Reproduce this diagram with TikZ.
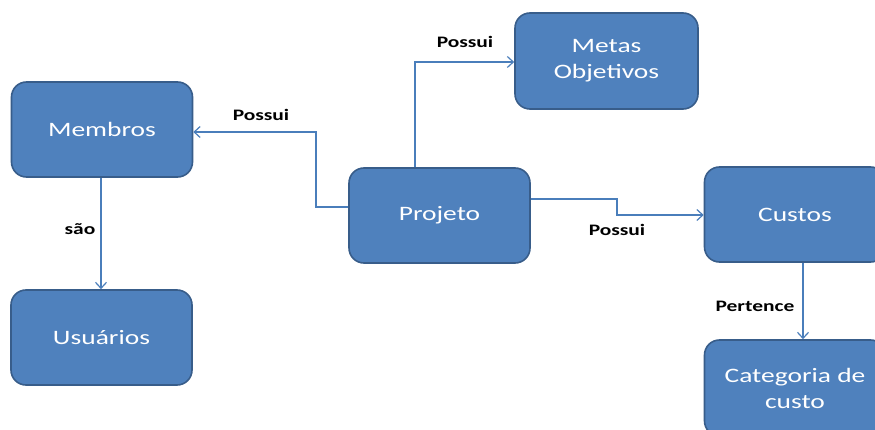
\documentclass[tikz,border=0pt]{standalone}
\usepackage{fontspec}
\setmainfont[FakeStretch=1.34]{Carlito}
\usetikzlibrary{arrows.meta}
\definecolor{boxfill}{HTML}{4F81BD}
\definecolor{boxline}{HTML}{385D8A}
\definecolor{linkcol}{HTML}{4A7EBB}
\begin{document}
\begin{tikzpicture}[x=1pt,y=-1pt,
  entity/.style={draw=boxline, line width=1.6pt, fill=boxfill, rounded corners=15pt,
    text=white, align=center, font=\fontsize{20.5}{26}\selectfont,
    inner sep=0pt, minimum width=181pt, minimum height=95pt},
  link/.style={draw=linkcol, line width=1.3pt, -{Straight Barb[length=6pt,width=11pt,line width=1.2pt]}},
  lbl/.style={font=\fontsize{16}{18}\selectfont\bfseries, text=black, inner sep=0pt}]
\useasboundingbox (0,0) rectangle (875,430);
\clip (0,0) rectangle (875,430);
\fill[white] (0,0) rectangle (875,430);

% entities
\node[entity] (memb) at (102,129.5) {Membros};
\node[entity] (usu)  at (101.5,337.5) {Usuários};
\node[entity] (proj) at (439.5,215.5) {Projeto};
\node[entity, minimum width=183pt, minimum height=96pt] (metas) at (606.5,61) {Metas\\Objetivos};
\node[entity] (cust) at (795,214.5) {Custos};
\node[entity, minimum height=96pt] (cat) at (795,388) {Categoria de\\custo};

% relations
\draw[link] (proj.west |- 0,207) -- (316,207) |- (memb.east |- 0,132);
\draw[link] (proj.north -| 415,0) |- (metas.west |- 0,62);
\draw[link] (proj.east |- 0,199) -- (617,199) |- (cust.west |- 0,215);
\draw[link] (memb.south -| 101,0) -- (usu.north -| 101,0);
\draw[link] (cust.south -| 803,0) -- (cat.north -| 803,0);

% relation labels
\node[lbl] (l1) at (261,115) {Possui};
\node[lbl] (l2) at (465,42) {Possui};
\node[lbl] (l3) at (617,230) {Possui};
\node[lbl] (l4) at (80,229) {são};
\node[lbl] (l5) at (755,306) {Pertence};
\end{tikzpicture}
\end{document}
